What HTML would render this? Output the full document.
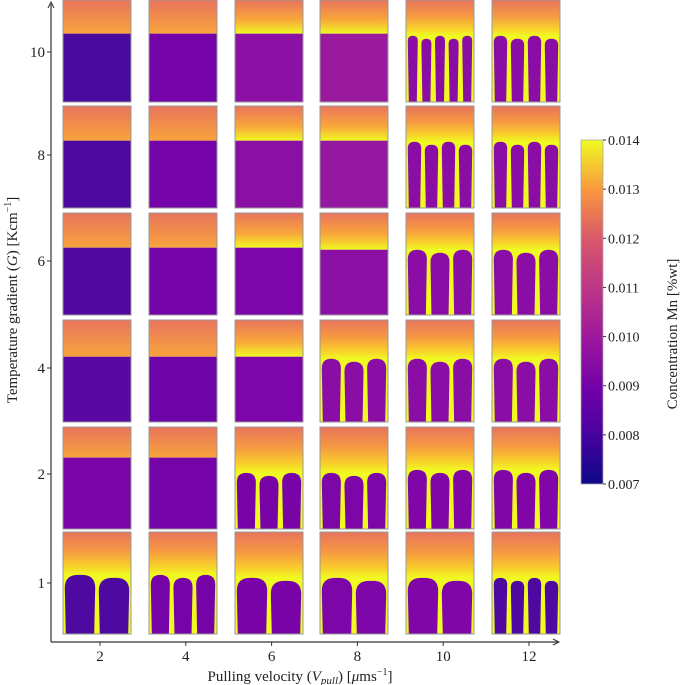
<!DOCTYPE html>
<html><head><meta charset="utf-8"><style>
html,body{margin:0;padding:0;background:#fff;width:685px;height:685px;overflow:hidden}
svg{display:block;font-family:"Liberation Serif",serif}
</style></head><body>
<svg id="chart" width="685" height="685" viewBox="0 0 685 685">
<defs>
<linearGradient id="liq" x1="0" y1="0" x2="0" y2="1"><stop offset="0" stop-color="#e8745c"/><stop offset="1" stop-color="#f8a43c"/></linearGradient>
<linearGradient id="liqY" x1="0" y1="0" x2="0" y2="1"><stop offset="0" stop-color="#e8745c"/><stop offset="0.6" stop-color="#f9a83a"/><stop offset="1" stop-color="#f0f921"/></linearGradient>
<linearGradient id="liqC" x1="0" y1="0" x2="0" y2="1"><stop offset="0" stop-color="#e8745c"/><stop offset="0.45" stop-color="#f69a42"/><stop offset="0.8" stop-color="#f8d02a"/><stop offset="1" stop-color="#f0f921"/></linearGradient>
<linearGradient id="cbar" x1="0" y1="1" x2="0" y2="0">
<stop offset="0" stop-color="#0d0887"/><stop offset="0.14" stop-color="#46039f"/><stop offset="0.28" stop-color="#7201a8"/><stop offset="0.42" stop-color="#9c179e"/><stop offset="0.57" stop-color="#bd3786"/><stop offset="0.71" stop-color="#d8576b"/><stop offset="0.85" stop-color="#f89540"/><stop offset="1" stop-color="#f0f921"/></linearGradient>
</defs>
<g id="panels"></g>
<g id="axes"></g>
</svg>
<script>
const velocities=[2,4,6,8,10,12];
const gradients=[10,8,6,4,2,1];
const cbTicks=["0.007","0.008","0.009","0.010","0.011","0.012","0.013","0.014"];
const solidColors=[
["#4a0a9e","#7404a8","#8c10a4","#9a1a9e","#8a0ea6","#8a0ea6"],
["#4e0aa0","#7404a8","#8a10a4","#9418a0","#8a0ea6","#8a0ea6"],
["#5008a0","#7404a8","#7c06a8","#8c10a4","#8a0ea6","#8a0ea6"],
["#5a08a2","#6c04a8","#7c06a8","#8a0ea6","#8a0ea6","#8a0ea6"],
["#7a04a8","#7404a8","#7804a8","#7c06a8","#8006a8","#8006a8"],
["#4e0aa0","#7404a8","#7804a8","#7c06a8","#8006a8","#4e0aa0"]];
const interfaceDepth=[
[0.33,0.33,0.33,0.33,0.35,0.35],
[0.34,0.34,0.34,0.34,0.35,0.35],
[0.34,0.34,0.34,0.36,0.36,0.36],
[0.36,0.36,0.36,0.38,0.38,0.38],
[0.30,0.30,0.45,0.45,0.42,0.42],
[0.42,0.42,0.45,0.45,0.45,0.45]];
const cellCounts=[
[0,0,0,0,5,4],
[0,0,0,0,4,4],
[0,0,0,0,3,3],
[0,0,0,3,3,3],
[0,0,3,3,3,3],
[2,3,2,2,2,4]];
const colX=[63,149,235,320,406,492], PW=68;
const rowY=[0,106,213,320,427,532], PH=102;
const vScale=v=>100+(v-2)*(529-100)/10;
const gY=[52,155,261,368,474,583];
const NS="http://www.w3.org/2000/svg";
function mk(t,a,p){const e=document.createElementNS(NS,t);for(const k in a)e.setAttribute(k,a[k]);p.appendChild(e);return e;}
const P=document.getElementById('panels');
for(let r=0;r<6;r++)for(let c=0;c<6;c++){
 const x=colX[c],y=rowY[r],n=cellCounts[r][c],d=interfaceDepth[r][c],col=solidColors[r][c];
 const g=mk('g',{},P);
 
 
 const iy=y+PH*d;
 if(n===0){
  mk('rect',{x:x,y:y,width:PW,height:iy-y,fill:(c>=2?'url(#liqY)':'url(#liq)')},g);
  mk('rect',{x:x,y:iy,width:PW,height:y+PH-iy,fill:col},g);
 } else {
  mk('rect',{x:x,y:y,width:PW,height:iy-y,fill:'url(#liqC)'},g);
  mk('rect',{x:x,y:iy-0.5,width:PW,height:y+PH-iy+0.5,fill:'#f0f921'},g);
  const w=PW/n;
  for(let i=0;i<n;i++){
   const x0=x+i*w+1.8,x1=x+(i+1)*w-1.8,rr=Math.min((x1-x0)/2,13);
   const t=iy+(i%2?3:0);
   const path=`M${x0+1},${y+PH} L${x0},${t+rr} Q${x0},${t} ${x0+rr},${t} L${x1-rr},${t} Q${x1},${t} ${x1},${t+rr} L${x1-1},${y+PH} Z`;
   const cell=mk('path',{d:path,fill:col},g);
   
   
  }
 }
 mk('rect',{x:x,y:y,width:PW,height:PH,fill:'none',stroke:'#999','stroke-width':1},g);
}
const A=document.getElementById('axes');
const ya=mk('line',{x1:51,y1:642,x2:51,y2:4,stroke:'#333','stroke-width':1.2},A);

mk('path',{d:'M48,8 L51,2 L54,8',fill:'none',stroke:'#333'},A);
const xa=mk('line',{x1:51,y1:642,x2:558,y2:642,stroke:'#333','stroke-width':1.2},A);

mk('path',{d:'M553,639 L559,642 L553,645',fill:'none',stroke:'#333'},A);
velocities.forEach(v=>{const X=vScale(v);mk('line',{x1:X,y1:642,x2:X,y2:646,stroke:'#333'},A);
 const t=mk('text',{x:X,y:661,'text-anchor':'middle','font-size':15,fill:'#222'},A);t.textContent=v;
 });
gradients.forEach((gv,i)=>{const Y=gY[i];mk('line',{x1:47,y1:Y,x2:51,y2:Y,stroke:'#333'},A);
 const t=mk('text',{x:45,y:Y+5,'text-anchor':'end','font-size':15,fill:'#222'},A);t.textContent=gv;
 });
const xt=mk('text',{x:300,y:681,'text-anchor':'middle','font-size':15,fill:'#222'},A);
xt.innerHTML='Pulling velocity (<tspan font-style="italic">V</tspan><tspan font-style="italic" font-size="11" dy="3">pull</tspan><tspan dy="-3">) [</tspan><tspan font-style="italic">μ</tspan>ms<tspan font-size="10" dy="-6">−1</tspan><tspan dy="6">]</tspan>';

const yt=mk('text',{x:0,y:0,'text-anchor':'middle','font-size':15,fill:'#222',transform:'translate(17,300) rotate(-90)'},A);
yt.innerHTML='Temperature gradient (<tspan font-style="italic">G</tspan>) [Kcm<tspan font-size="10" dy="-6">−1</tspan><tspan dy="6">]</tspan>';

const cb=mk('rect',{x:581,y:140,width:22,height:344,fill:'url(#cbar)',stroke:'#aaa','stroke-width':0.8},A);

cbTicks.forEach((s,i)=>{const Y=484-i*344/(cbTicks.length-1);
 mk('line',{x1:603,y1:Y,x2:606,y2:Y,stroke:'#333'},A);
 const t=mk('text',{x:608,y:Y+5,'font-size':14,fill:'#222'},A);t.textContent=s;
 });
const ct=mk('text',{x:0,y:0,'text-anchor':'middle','font-size':15,fill:'#222',transform:'translate(677,334) rotate(-90)'},A);
ct.textContent='Concentration Mn [%wt]';

</script>
</body></html>
